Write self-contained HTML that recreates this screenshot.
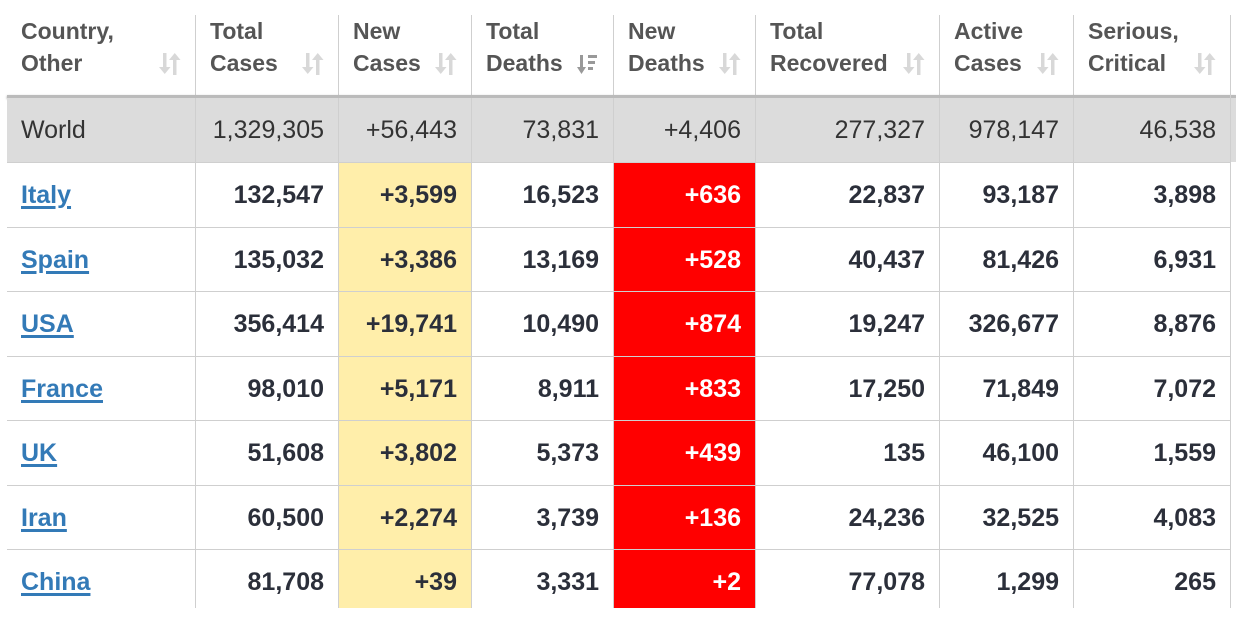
<!DOCTYPE html>
<html><head><meta charset="utf-8">
<style>
body{margin:0;width:1236px;height:635px;background:#fff;overflow:hidden;font-family:"Liberation Sans",sans-serif;position:relative}
.c{position:absolute;box-sizing:border-box;border-left:1px solid #cfcfcf;}
.h{color:#555;font-weight:bold;font-size:23px;line-height:32px;padding:0 14px 0 14px;}
.ic{position:absolute;right:14px;top:34px;width:22px;height:28px;}
.n{text-align:right;padding-right:14px;font-size:25px;line-height:64px;color:#2b2f3a;font-weight:bold;border-top:1px solid #cfcfcf}
.w{font-weight:normal;color:#333;background:#dcdcdc;border-top:none}
.l{text-align:left;padding-left:14px;}
.l a{color:#337ab7;text-decoration:underline;text-decoration-thickness:3px;text-underline-offset:3px}
.y{background:#ffeeaa}
.r{background:#ff0000;color:#fff}
</style></head><body>
<div id="t"></div>
<script>
const headers=[["Country,","Other"],["Total","Cases"],["New","Cases"],["Total","Deaths"],["New","Deaths"],["Total","Recovered"],["Active","Cases"],["Serious,","Critical"]];
const countries=["World","Italy","Spain","USA","France","UK","Iran","China"];
const totalCases=["1,329,305","132,547","135,032","356,414","98,010","51,608","60,500","81,708"];
const newCases=["+56,443","+3,599","+3,386","+19,741","+5,171","+3,802","+2,274","+39"];
const totalDeaths=["73,831","16,523","13,169","10,490","8,911","5,373","3,739","3,331"];
const newDeaths=["+4,406","+636","+528","+874","+833","+439","+136","+2"];
const recovered=["277,327","22,837","40,437","19,247","17,250","135","24,236","77,078"];
const active=["978,147","93,187","81,426","326,677","71,849","46,100","32,525","1,299"];
const serious=["46,538","3,898","6,931","8,876","7,072","1,559","4,083","265"];
const cols=[7,195,338,471,613,755,939,1073,1230];
const rowsY=[98,162,227,291,356,420,485,549,614];
const t=document.getElementById('t');
const colData=[countries,totalCases,newCases,totalDeaths,newDeaths,recovered,active,serious];
const colNames=["country","total-cases","new-cases","total-deaths","new-deaths","total-recovered","active-cases","serious-critical"];
for(let i=0;i<8;i++){
  const h=document.createElement('div');
  h.className='c h';
  h.style.cssText=`left:${cols[i]}px;top:15px;width:${cols[i+1]-cols[i]}px;height:80px;`+(i==0?'border-left:none;':'');
  h.innerHTML=headers[i][0]+'<br>'+headers[i][1];
  
  
  const ic=document.createElement('div');
  ic.className='ic';
  const col=i==3?'#999':'#d8d8d8';
  ic.innerHTML=i==3?`<svg width="22" height="28"><rect x="3" y="6" width="3" height="16" fill="${col}"/><path d="M0 18 L9 18 L4.5 25Z" fill="${col}"/><rect x="11" y="6" width="9" height="3" fill="${col}"/><rect x="11" y="12" width="7" height="3" fill="${col}"/><rect x="11" y="18" width="5" height="3" fill="${col}"/></svg>`:`<svg width="22" height="28"><rect x="4" y="4" width="3.5" height="18" fill="${col}"/><path d="M0 18 L11.5 18 L5.75 25Z" fill="${col}"/><rect x="14" y="8" width="3.5" height="18" fill="${col}"/><path d="M10 11 L21.5 11 L15.75 4Z" fill="${col}"/></svg>`;
  
  
  h.appendChild(ic);
  t.appendChild(h);
}
const sh=document.createElement('div');
sh.style.cssText='position:absolute;left:7px;top:95px;width:1229px;height:3px;background:#bbb;box-shadow:0 1px 2px #999';


t.appendChild(sh);
for(let r=0;r<8;r++){
  for(let i=0;i<8;i++){
    const d=document.createElement('div');
    let cls='c n';
    if(r==0)cls+=' w';
    else if(i==2)cls+=' y';
    else if(i==4)cls+=' r';
    if(i==0)cls+=' l';
    d.className=cls;
    const right=(r==0&&i==7)?1236:cols[i+1];
    d.style.cssText=`left:${cols[i]}px;top:${rowsY[r]}px;width:${right-cols[i]}px;height:${rowsY[r+1]-rowsY[r]}px;`+(i==0?'border-left:none;':'')+(r==7?'height:59px;':'')+((r==0&&i==7)?'padding-right:20px;':'');
    if(i==0&&r>0){d.innerHTML='<a>'+colData[i][r]+'</a>';}
    else d.textContent=colData[i][r];
    
    
    t.appendChild(d);
  }
}
const rb=document.createElement('div');
rb.style.cssText='position:absolute;left:1230px;top:15px;width:1px;height:593px;background:#cfcfcf';


t.appendChild(rb);
</script>
</body></html>
